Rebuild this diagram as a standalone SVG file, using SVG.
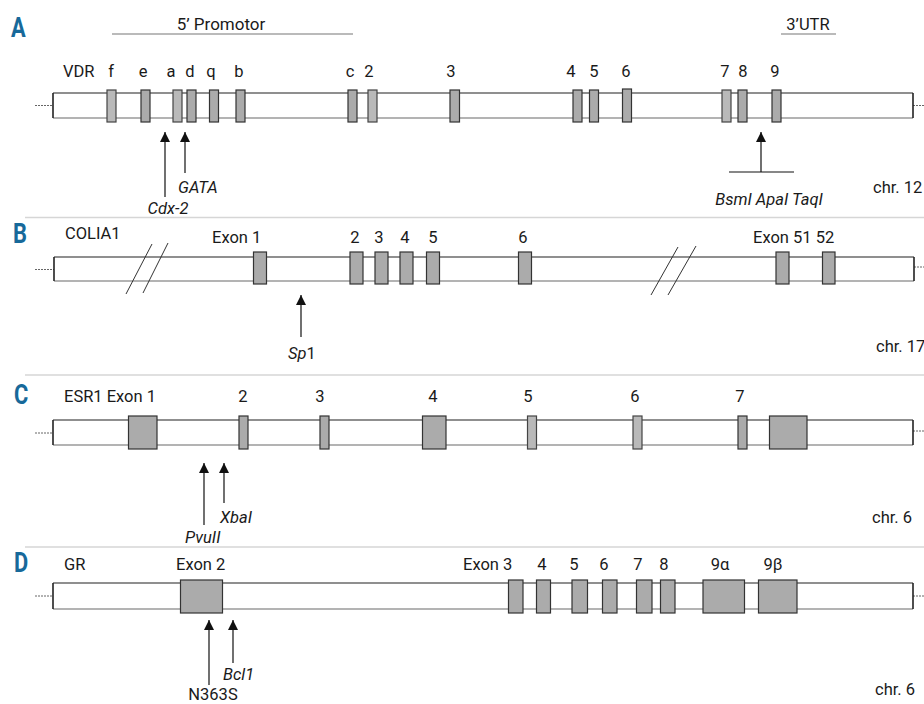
<svg xmlns="http://www.w3.org/2000/svg" width="924" height="704" viewBox="0 0 924 704">
<style>
.lbl{font-family:Roboto,"Liberation Sans",sans-serif;font-size:16.5px;fill:#1a1a1a}
.it{font-style:italic}
.mid{text-anchor:middle}
.pl{font-family:Roboto,"Liberation Sans",sans-serif;font-weight:bold;font-size:28px;fill:#17699a}
.ex{fill:#ababab;stroke:#333;stroke-width:1.2}
.exl{fill:#b9b9b9;stroke:#444;stroke-width:1.2}
.bt{stroke:#6a6a6a;stroke-width:1.4}
.bb{stroke:#9a9a9a;stroke-width:1.4}
.be{stroke:#222;stroke-width:1.6}
.lead{stroke:#666;stroke-width:1;stroke-dasharray:2 1}
.sep{stroke:#d6d6d6;stroke-width:1.5}
.arr{stroke:#111;stroke-width:1.2;fill:none}
.brk{stroke:#333;stroke-width:1;fill:none}
.ul{stroke:#777;stroke-width:1.2}
</style>
<defs>
<marker id="ah" viewBox="0 0 10 10" refX="10" refY="5" markerWidth="10" markerHeight="10" markerUnits="userSpaceOnUse" orient="auto">
<path d="M0,0 L10,5 L0,10 z" fill="#111"/>
</marker>
</defs>
<rect width="924" height="704" fill="#fff"/>

<g id="separators">
<line class="sep" x1="25" y1="217.5" x2="924" y2="217.5"/>
<line class="sep" x1="25" y1="375" x2="924" y2="375"/>
<line class="sep" x1="25" y1="547" x2="924" y2="547"/>
</g>

<!-- Panel A -->
<g id="panelA">
<text class="pl" transform="translate(11,37) scale(0.78,1)">A</text>
<text class="lbl" x="221" y="30" text-anchor="middle" style="font-size:17px">5’ Promotor</text>
<line class="ul" x1="112" y1="34" x2="353" y2="34"/>
<text class="lbl" x="808" y="30" text-anchor="middle">3’UTR</text>
<line class="ul" x1="781" y1="34" x2="836" y2="34"/>
<g id="geneA">
<line class="lead" x1="35" y1="105.5" x2="53" y2="105.5"/>
<line class="lead" x1="913" y1="105.5" x2="924" y2="105.5"/>
<rect x="53" y="93" width="860" height="25" fill="#fff"/>
<line class="bt" x1="53" y1="93" x2="913" y2="93"/>
<line class="bb" x1="53" y1="118" x2="913" y2="118"/>
<line class="be" x1="53" y1="93" x2="53" y2="118"/>
<line class="be" x1="913" y1="93" x2="913" y2="118"/>
</g>
<g id="exonsA">
<rect class="exl" x="107" y="90" width="9" height="32"/>
<rect class="ex" x="141" y="90" width="9" height="32"/>
<rect class="exl" x="173" y="90" width="9" height="32"/>
<rect class="ex" x="187" y="90" width="9" height="32"/>
<rect class="ex" x="209.5" y="90" width="9" height="32"/>
<rect class="ex" x="236" y="90" width="9" height="32"/>
<rect class="ex" x="348" y="90" width="9" height="32"/>
<rect class="exl" x="368" y="90" width="9" height="32"/>
<rect class="ex" x="450" y="90" width="9.5" height="32"/>
<rect class="ex" x="573" y="90" width="9" height="32"/>
<rect class="ex" x="589.5" y="90" width="9" height="32"/>
<rect class="ex" x="622.5" y="89" width="9" height="33"/>
<rect class="exl" x="722" y="90" width="9" height="32"/>
<rect class="ex" x="738" y="90" width="9" height="32"/>
<rect class="ex" x="772" y="90" width="9" height="32"/>
</g>
<g id="labelsA">
<text class="lbl" x="63" y="77">VDR</text>
<text class="lbl mid" x="111" y="77">f</text>
<text class="lbl mid" x="143" y="77">e</text>
<text class="lbl mid" x="171" y="77">a</text>
<text class="lbl mid" x="190" y="77">d</text>
<text class="lbl mid" x="211" y="77">q</text>
<text class="lbl mid" x="239" y="77">b</text>
<text class="lbl mid" x="350" y="77">c</text>
<text class="lbl mid" x="369" y="77">2</text>
<text class="lbl mid" x="451" y="77">3</text>
<text class="lbl mid" x="571" y="77">4</text>
<text class="lbl mid" x="594" y="77">5</text>
<text class="lbl mid" x="626" y="77">6</text>
<text class="lbl mid" x="725" y="77">7</text>
<text class="lbl mid" x="743" y="77">8</text>
<text class="lbl mid" x="775" y="77">9</text>
<text class="lbl" x="873" y="193">chr. 12</text>
</g>
<g id="markersA">
<text class="lbl it" x="178" y="193">GATA</text>
<text class="lbl it mid" x="168" y="214">Cdx-2</text>
<text class="lbl it mid" x="769" y="205">BsmI ApaI TaqI</text>
</g>
</g>

<!-- Panel B -->
<g id="panelB">
<text class="pl" transform="translate(13,243) scale(0.78,1)">B</text>
<g id="geneB">
<line class="lead" x1="35" y1="269.5" x2="54" y2="269.5"/>
<line class="lead" x1="914" y1="267" x2="924" y2="267"/>
<rect x="54" y="257" width="860" height="24" fill="#fff"/>
<line class="bt" x1="54" y1="257" x2="914" y2="257"/>
<line class="bb" x1="54" y1="281" x2="914" y2="281"/>
<line class="be" x1="54" y1="257" x2="54" y2="281"/>
<line class="be" x1="914" y1="257" x2="914" y2="281"/>
<line class="brk" x1="126" y1="294" x2="152" y2="244"/>
<line class="brk" x1="143" y1="293" x2="168" y2="243"/>
<line class="brk" x1="651" y1="295" x2="678" y2="247"/>
<line class="brk" x1="668" y1="295" x2="696" y2="246"/>
</g>
<g id="exonsB">
<rect class="ex" x="253.5" y="252" width="13" height="32"/>
<rect class="ex" x="350" y="252" width="13" height="32"/>
<rect class="ex" x="375" y="252" width="13" height="32"/>
<rect class="ex" x="400" y="252" width="13" height="32"/>
<rect class="ex" x="426.5" y="252" width="13" height="32"/>
<rect class="ex" x="518.5" y="252" width="13" height="32"/>
<rect class="ex" x="776" y="252" width="13" height="32"/>
<rect class="ex" x="822.5" y="252" width="12.5" height="32"/>
</g>
<g id="labelsB">
<text class="lbl" x="65" y="239">COLIA1</text>
<text class="lbl" x="212" y="243">Exon 1</text>
<text class="lbl mid" x="355" y="243">2</text>
<text class="lbl mid" x="379" y="243">3</text>
<text class="lbl mid" x="405" y="243">4</text>
<text class="lbl mid" x="433" y="243">5</text>
<text class="lbl mid" x="523" y="243">6</text>
<text class="lbl" x="753" y="243">Exon 51 52</text>
<text class="lbl" x="876" y="352">chr. 17</text>
<text class="lbl" x="288" y="359"><tspan class="it">Sp</tspan>1</text>
</g>
</g>

<!-- Panel C -->
<g id="panelC">
<text class="pl" transform="translate(14,404) scale(0.78,1)">C</text>
<g id="geneC">
<line class="lead" x1="35" y1="433" x2="53" y2="433"/>
<line class="lead" x1="913" y1="431" x2="924" y2="431"/>
<rect x="53" y="420" width="860" height="25" fill="#fff"/>
<line class="bt" x1="53" y1="420" x2="913" y2="420"/>
<line class="bb" x1="53" y1="445" x2="913" y2="445"/>
<line class="be" x1="53" y1="420" x2="53" y2="445"/>
<line class="be" x1="913" y1="420" x2="913" y2="445"/>
</g>
<g id="exonsC">
<rect class="ex" x="128.5" y="416" width="28.5" height="33"/>
<rect class="ex" x="239" y="416" width="9" height="33"/>
<rect class="ex" x="320" y="416" width="9" height="33"/>
<rect class="ex" x="422.5" y="416" width="23.5" height="33"/>
<rect class="exl" x="527.5" y="416" width="9" height="33"/>
<rect class="exl" x="633" y="416" width="9" height="33"/>
<rect class="ex" x="738" y="416" width="9" height="33"/>
<rect class="ex" x="769.5" y="416" width="37.5" height="33"/>
</g>
<g id="labelsC">
<text class="lbl" x="64" y="402">ESR1 Exon 1</text>
<text class="lbl mid" x="243" y="402">2</text>
<text class="lbl mid" x="320" y="402">3</text>
<text class="lbl mid" x="433" y="402">4</text>
<text class="lbl mid" x="528" y="402">5</text>
<text class="lbl mid" x="635" y="402">6</text>
<text class="lbl mid" x="740" y="402">7</text>
<text class="lbl" x="872" y="523">chr. 6</text>
<text class="lbl it" x="220" y="523">XbaI</text>
<text class="lbl it" x="185" y="543">PvuII</text>
</g>
</g>

<!-- Panel D -->
<g id="panelD">
<text class="pl" transform="translate(14,572) scale(0.78,1)">D</text>
<g id="geneD">
<line class="lead" x1="35" y1="596" x2="53" y2="596"/>
<line class="lead" x1="913" y1="596" x2="924" y2="596"/>
<rect x="53" y="583" width="860" height="26" fill="#fff"/>
<line class="bt" x1="53" y1="583" x2="913" y2="583"/>
<line class="bb" x1="53" y1="609" x2="913" y2="609"/>
<line class="be" x1="53" y1="583" x2="53" y2="609"/>
<line class="be" x1="913" y1="583" x2="913" y2="609"/>
</g>
<g id="exonsD">
<rect class="ex" x="180.5" y="580" width="42" height="33"/>
<rect class="ex" x="508.5" y="580" width="14.5" height="33"/>
<rect class="ex" x="536.5" y="580" width="14" height="33"/>
<rect class="ex" x="572" y="580" width="15.5" height="33"/>
<rect class="ex" x="602.5" y="580" width="14.5" height="33"/>
<rect class="ex" x="636.5" y="580" width="15.5" height="33"/>
<rect class="ex" x="660.5" y="580" width="14.5" height="33"/>
<rect class="ex" x="703" y="580" width="41.5" height="33"/>
<rect class="ex" x="758.5" y="580" width="38.5" height="33"/>
</g>
<g id="labelsD">
<text class="lbl" x="64" y="570">GR</text>
<text class="lbl" x="176" y="570">Exon 2</text>
<text class="lbl" x="463" y="570">Exon 3</text>
<text class="lbl mid" x="542" y="570">4</text>
<text class="lbl mid" x="574" y="570">5</text>
<text class="lbl mid" x="604" y="570">6</text>
<text class="lbl mid" x="638" y="570">7</text>
<text class="lbl mid" x="664" y="570">8</text>
<text class="lbl mid" x="720" y="570">9α</text>
<text class="lbl mid" x="773" y="570">9β</text>
<text class="lbl" x="875" y="695">chr. 6</text>
<text class="lbl it" x="223" y="680">Bcl1</text>
<text class="lbl mid" x="213" y="700">N363S</text>
</g>
</g>

<g id="connectors">
<line class="arr" x1="165" y1="197" x2="165" y2="132" marker-end="url(#ah)"/>
<line class="arr" x1="185" y1="173" x2="185" y2="132" marker-end="url(#ah)"/>
<line class="arr" x1="761" y1="172" x2="761" y2="132" marker-end="url(#ah)"/>
<line class="arr" x1="729" y1="172" x2="794" y2="172"/>
<line class="arr" x1="301" y1="337" x2="301" y2="295" marker-end="url(#ah)"/>
<line class="arr" x1="204" y1="525" x2="204" y2="463" marker-end="url(#ah)"/>
<line class="arr" x1="224" y1="503" x2="224" y2="463" marker-end="url(#ah)"/>
<line class="arr" x1="209" y1="685" x2="209" y2="620" marker-end="url(#ah)"/>
<line class="arr" x1="233" y1="663" x2="233" y2="620" marker-end="url(#ah)"/>
</g>
</svg>
